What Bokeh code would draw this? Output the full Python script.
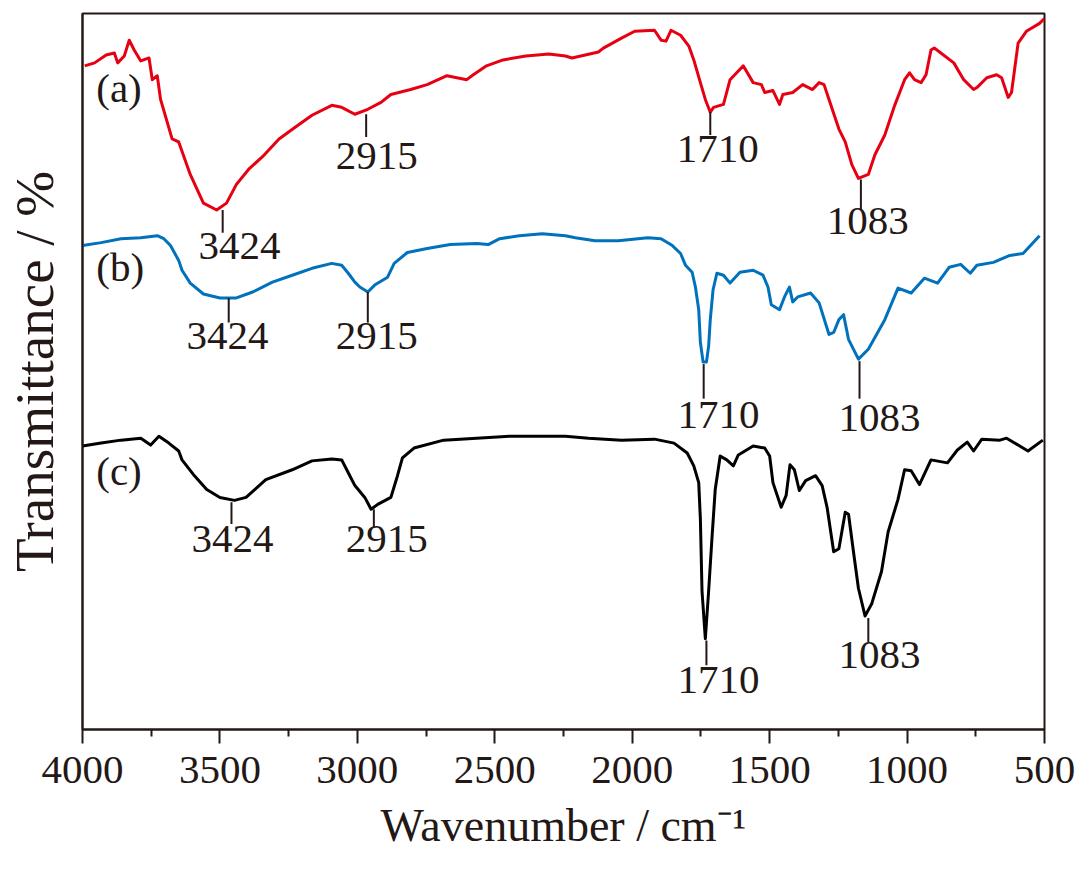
from bokeh.plotting import figure
from bokeh.models import Range1d, FixedTicker, Label, ColumnDataSource
from bokeh.core.properties import value
from bokeh.embed import file_html
from bokeh.resources import INLINE

# ---------------- data ----------------
wn_a = [3992, 3956, 3914, 3884, 3872, 3848, 3830, 3812, 3788, 3758, 3746, 3728, 3716, 3674, 3650,
        3608, 3560, 3512, 3476, 3440, 3393, 3345, 3285, 3225, 3165, 3093, 3057, 3009, 2962, 2914,
        2878, 2806, 2746, 2674, 2602, 2578, 2530, 2470, 2387, 2303, 2243, 2219, 2123, 2105, 2039,
        1991, 1919, 1895, 1877, 1859, 1824, 1794, 1776, 1752, 1734, 1716, 1704, 1668, 1644, 1620,
        1596, 1560, 1530, 1518, 1488, 1464, 1452, 1416, 1380, 1344, 1320, 1302, 1284, 1248, 1225,
        1201, 1177, 1141, 1117, 1081, 1045, 1009, 991, 973, 949, 931, 913, 901, 830, 794,
        758, 746, 710, 674, 656, 632, 620, 596, 566, 518, 500]
t_a = [672, 675, 683, 685, 675, 682, 698, 688, 677, 680, 658, 662, 638, 598, 595,
       562, 533, 526, 533, 552, 568, 580, 598, 610, 622, 632, 630, 623, 628, 635,
       643, 648, 653, 662, 658, 663, 672, 678, 682, 684, 682, 680, 686, 690, 700,
       707, 708, 698, 697, 708, 703, 692, 678, 655, 638, 625, 630, 633, 658, 665,
       672, 655, 653, 645, 647, 633, 643, 645, 653, 648, 655, 653, 638, 608, 595,
       572, 558, 562, 582, 602, 632, 658, 665, 658, 655, 663, 688, 690, 675, 658,
       648, 650, 660, 663, 660, 640, 645, 695, 707, 715, 720]

wn_b = [4000, 3932, 3860, 3788, 3728, 3704, 3680, 3650, 3638, 3608, 3560, 3500, 3440, 3381, 3309,
        3237, 3165, 3093, 3057, 3033, 3009, 2991, 2962, 2937, 2890, 2866, 2818, 2746, 2662, 2566,
        2524, 2482, 2411, 2327, 2243, 2207, 2135, 2051, 1943, 1895, 1854, 1824, 1806, 1782, 1770,
        1758, 1752, 1742, 1730, 1722, 1716, 1706, 1692, 1668, 1644, 1608, 1560, 1524, 1506, 1494,
        1464, 1446, 1428, 1416, 1398, 1351, 1320, 1284, 1267, 1248, 1231, 1213, 1177, 1141, 1081,
        1033, 985, 937, 889, 847, 805, 770, 746, 686, 626, 578, 518]
t_b = [490, 493, 497, 498, 500, 497, 490, 475, 465, 452, 441, 437, 437, 443, 453,
       460, 467, 472, 470, 462, 453, 448, 443, 450, 458, 472, 483, 487, 491, 492,
       491, 497, 500, 502, 500, 498, 495, 495, 498, 497, 490, 482, 470, 463, 448,
       425, 392, 372, 372, 388, 415, 445, 462, 460, 452, 463, 465, 460, 448, 430,
       425, 438, 448, 433, 438, 442, 432, 400, 402, 415, 420, 395, 375, 385, 415,
       447, 442, 457, 452, 468, 471, 462, 470, 473, 480, 482, 500]

wn_c = [4000, 3932, 3860, 3788, 3752, 3722, 3686, 3650, 3638, 3596, 3548, 3500, 3447, 3405, 3333,
        3237, 3165, 3093, 3057, 3033, 3009, 2973, 2950, 2926, 2878, 2854, 2836, 2794, 2686, 2566,
        2447, 2327, 2243, 2159, 2039, 1919, 1848, 1800, 1776, 1758, 1752, 1746, 1734, 1722, 1710,
        1698, 1680, 1656, 1632, 1614, 1560, 1518, 1500, 1488, 1458, 1440, 1426, 1410, 1392, 1369,
        1333, 1309, 1291, 1267, 1248, 1225, 1213, 1195, 1177, 1153, 1129, 1093, 1069, 1033, 1009,
        985, 955, 913, 853, 817, 781, 758, 728, 662, 638, 560, 506]
t_c = [287, 290, 293, 295, 288, 297, 290, 282, 273, 258, 243, 235, 232, 235, 253,
       263, 272, 274, 273, 260, 247, 235, 223, 228, 235, 257, 275, 285, 293, 295,
       297, 297, 297, 295, 293, 294, 290, 280, 267, 250, 213, 140, 92, 140, 193,
       243, 277, 273, 267, 278, 287, 285, 277, 250, 225, 237, 268, 263, 242, 252,
       257, 247, 225, 180, 183, 220, 218, 180, 143, 115, 127, 160, 200, 233, 263,
       262, 248, 273, 270, 283, 291, 282, 294, 293, 295, 282, 293]

major_ticks = [4000, 3500, 3000, 2500, 2000, 1500, 1000, 500]
minor_ticks = [3750, 3250, 2750, 2250, 1750, 1250, 750]

series_names = ["(a)", "(b)", "(c)"]
series_colors = ["#e60012", "#0071bc", "#000000"]

# peak annotations: label text, tick x, tick top, tick bottom
peak_text = ["3424", "2915", "1710", "1083",
             "3424", "2915", "1710", "1083",
             "3424", "2915", "1710", "1083"]
peak_x = [3490, 2968, 1716, 1168,
          3468, 2962, 1740, 1173,
          3458, 2940, 1730, 1141]
peak_top = [526, 623, 625, 557,
            437, 443, 370, 373,
            230, 223, 90, 113]
peak_bot = [503, 600, 602, 527,
            412, 412, 335, 335,
            208, 205, 65, 88]
# label anchor (centre x, vertical anchor)
label_x = [3429, 2929, 1689, 1143,
           3472, 2929, 1686, 1100,
           3454, 2893, 1686, 1100]
label_y = [490, 581, 588, 515,
           398, 398, 318, 315,
           193, 193, 50, 75]

INK = "#231815"
SERIF = "Liberation Serif"

p = figure(frame_width=962, frame_height=716,
           x_range=Range1d(4000, 500), y_range=Range1d(0, 725),
           output_backend="svg", toolbar_location=None,
           min_border_left=81, min_border_right=32,
           min_border_top=13, min_border_bottom=0)
p.background_fill_color = "white"
p.border_fill_color = "white"
p.xgrid.visible = False
p.ygrid.visible = False
p.outline_line_color = INK
p.outline_line_width = 2

ax = p.xaxis[0]
ax.ticker = FixedTicker(ticks=major_ticks, minor_ticks=minor_ticks)
ax.axis_line_color = INK
ax.axis_line_width = 2
ax.major_tick_line_color = INK
ax.major_tick_line_width = 2
ax.major_tick_out = 14
ax.major_tick_in = 0
ax.minor_tick_line_color = INK
ax.minor_tick_line_width = 2
ax.minor_tick_out = 7
ax.minor_tick_in = 0
ax.major_label_text_font = SERIF
ax.major_label_text_font_size = "41px"
ax.major_label_text_color = INK
ax.major_label_standoff = 13
ax.axis_label = "Wavenumber / cm\u207b\u00b9"
ax.axis_label_text_font = SERIF
ax.axis_label_text_font_size = "46px"
ax.axis_label_text_font_style = "normal"
ax.axis_label_text_color = INK
ax.axis_label_standoff = 14

ay = p.yaxis[0]
ay.ticker = FixedTicker(ticks=[])
ay.axis_line_color = INK
ay.axis_line_width = 2
ay.major_tick_out = 0
ay.major_tick_in = 0
ay.minor_tick_out = 0
ay.minor_tick_in = 0
ay.major_label_text_font_size = "0px"
ay.axis_label = "Transmittance / %"
ay.axis_label_text_font = SERIF
ay.axis_label_text_font_size = "55px"
ay.axis_label_text_font_style = "normal"
ay.axis_label_text_color = INK
ay.axis_label_standoff = 18

for wn, tt, col in [(wn_a, t_a, series_colors[0]), (wn_b, t_b, series_colors[1]), (wn_c, t_c, series_colors[2])]:
    p.line(wn, tt, line_color=col, line_width=3, line_join="round")

src = ColumnDataSource(dict(x=peak_x, top=peak_top, bot=peak_bot, lx=label_x, ly=label_y, txt=peak_text))
p.segment(x0="x", y0="top", x1="x", y1="bot", source=src, line_color=INK, line_width=2)
p.text(x="lx", y="ly", text="txt", source=src, text_font=value(SERIF), text_font_size="41px",
       text_color=INK, text_align="center", text_baseline="alphabetic")

# series letters
for name, yb in zip(series_names, [650, 468, 262]):
    p.add_layout(Label(x=3950, y=yb, text=name, text_font=SERIF, text_font_size="41px",
                       text_color=INK, text_align="left", text_baseline="alphabetic"))

open("out.html", "w").write(file_html(p, INLINE))
